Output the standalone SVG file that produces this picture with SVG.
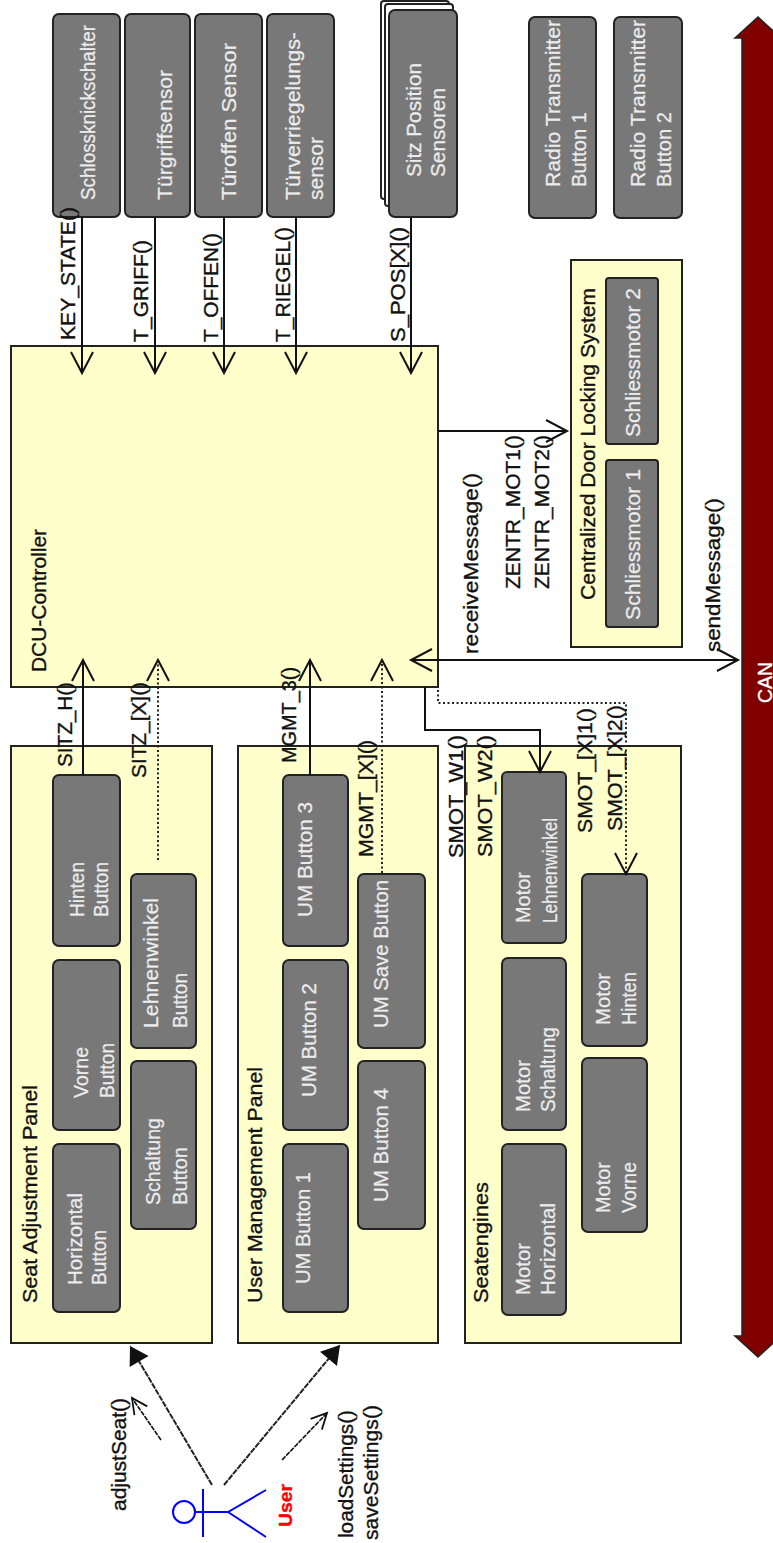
<svg xmlns="http://www.w3.org/2000/svg" width="773" height="1543" viewBox="0 0 773 1543">
<style>
text{font-family:"Liberation Sans",Arial,sans-serif;font-size:21px;fill:#111;stroke:#111;stroke-width:.35}
.b text{fill:#ececec;stroke:#ececec;stroke-width:.25;font-size:20px}
.b rect{fill:#787878;stroke:#222;stroke-width:2}
.p{fill:#ffffcc;stroke:#222;stroke-width:2}
.c{fill:none;stroke:#111;stroke-width:2}
.d{fill:none;stroke:#222;stroke-width:2;stroke-dasharray:2 2.5}
.o{marker-end:url(#open)}
.f{fill:none;stroke:#222;stroke-width:2;stroke-dasharray:6 1;marker-end:url(#fill)}
.s{fill:none;stroke:#111;stroke-width:1.6;stroke-dasharray:5 1;marker-end:url(#sm)}
.a{fill:none;stroke:#00f;stroke-width:2}
</style>
<defs>
<marker id="open" markerUnits="userSpaceOnUse" markerWidth="26" markerHeight="28" viewBox="-23 -13 26 26" refX="0" refY="0" orient="auto-start-reverse"><path d="M-21,-11L0,0L-21,11" fill="none" stroke="#111" stroke-width="2"/></marker>
<marker id="sm" markerUnits="userSpaceOnUse" markerWidth="20" markerHeight="20" viewBox="-16 -9 18 18" refX="0" refY="0" orient="auto"><path d="M-14,-7L0,0L-14,7" fill="none" stroke="#111" stroke-width="1.6"/></marker>
<marker id="fill" markerUnits="userSpaceOnUse" markerWidth="24" markerHeight="24" viewBox="-20 -12 22 24" refX="0" refY="0" orient="auto"><path d="M-18,-11L0,0L-18,11Z" fill="#111"/></marker>
</defs>

<g id="can"><path d="M758,17L781,38H775V1336H781L758,1357L735,1336H742V38H735Z" fill="#800000" stroke="#222" stroke-width="1.5"/><text transform="translate(772,703) rotate(-90)" textLength="41" lengthAdjust="spacingAndGlyphs" style="fill:#fff;stroke:#fff">CAN</text></g>

<g id="dcu-controller"><rect class="p" x="11" y="346" width="427" height="341"/><text transform="translate(46,672) rotate(-90)" textLength="143" lengthAdjust="spacingAndGlyphs">DCU-Controller</text></g>

<g id="seat-adjustment-panel"><rect class="p" x="11" y="746" width="201" height="597"/><text transform="translate(37,1303) rotate(-90)" textLength="218" lengthAdjust="spacingAndGlyphs">Seat Adjustment Panel</text></g>
<g id="user-management-panel"><rect class="p" x="238" y="746" width="200" height="597"/><text transform="translate(262,1303) rotate(-90)" textLength="236" lengthAdjust="spacingAndGlyphs">User Management Panel</text></g>
<g id="seat-engines"><rect class="p" x="465" y="746" width="216" height="597"/><text transform="translate(488,1303) rotate(-90)" textLength="121" lengthAdjust="spacingAndGlyphs">Seatengines</text></g>
<g id="door-locking"><rect class="p" x="571" y="260" width="111" height="387"/><text transform="translate(595,600) rotate(-90)" textLength="312" lengthAdjust="spacingAndGlyphs">Centralized Door Locking System</text></g>

<g id="schlossschalter" class="b"><rect x="53" y="14" width="67" height="203" rx="6"/><text transform="translate(95,200) rotate(-90)" textLength="175" lengthAdjust="spacingAndGlyphs">Schlossknickschalter</text></g>
<g id="tuergriffsensor" class="b"><rect x="125" y="14" width="65" height="203" rx="6"/><text transform="translate(172,200) rotate(-90)" textLength="130" lengthAdjust="spacingAndGlyphs">Türgriffsensor</text></g>
<g id="tueroffen-sensor" class="b"><rect x="195" y="14" width="67" height="203" rx="6"/><text transform="translate(236,200) rotate(-90)" textLength="157" lengthAdjust="spacingAndGlyphs">Türoffen Sensor</text></g>
<g id="tuerverriegelung" class="b"><rect x="267" y="14" width="67" height="203" rx="6"/><text transform="translate(300,200) rotate(-90)" textLength="168" lengthAdjust="spacingAndGlyphs">Türverriegelungs-</text><text transform="translate(323,200) rotate(-90)" textLength="63" lengthAdjust="spacingAndGlyphs">sensor</text></g>
<g id="sitz-position" class="b"><rect x="381" y="1" width="68" height="198" rx="3" style="fill:#fff"/><rect x="385" y="4" width="68" height="202" rx="3" style="fill:#fff"/><rect x="389" y="10" width="68" height="207" rx="6"/><text transform="translate(421,177) rotate(-90)" textLength="114" lengthAdjust="spacingAndGlyphs">Sitz Position</text><text transform="translate(445,177) rotate(-90)" textLength="89" lengthAdjust="spacingAndGlyphs">Sensoren</text></g>
<g id="radio-1" class="b"><rect x="529" y="17" width="67" height="201" rx="6"/><text transform="translate(560,187) rotate(-90)" textLength="167" lengthAdjust="spacingAndGlyphs">Radio Transmitter</text><text transform="translate(586,187) rotate(-90)" textLength="75" lengthAdjust="spacingAndGlyphs">Button 1</text></g>
<g id="radio-2" class="b"><rect x="614" y="17" width="68" height="201" rx="6"/><text transform="translate(645,187) rotate(-90)" textLength="167" lengthAdjust="spacingAndGlyphs">Radio Transmitter</text><text transform="translate(671,187) rotate(-90)" textLength="75" lengthAdjust="spacingAndGlyphs">Button 2</text></g>
<g id="schliessmotor-2" class="b"><rect x="606" y="278" width="52" height="166" rx="3"/><text transform="translate(640,437) rotate(-90)" textLength="149" lengthAdjust="spacingAndGlyphs">Schliessmotor 2</text></g>
<g id="schliessmotor-1" class="b"><rect x="606" y="460" width="52" height="167" rx="3"/><text transform="translate(640,620) rotate(-90)" textLength="151" lengthAdjust="spacingAndGlyphs">Schliessmotor 1</text></g>

<g id="hinten-button" class="b"><rect x="53" y="775" width="67" height="171" rx="6"/><text transform="translate(84,917) rotate(-90)" textLength="55" lengthAdjust="spacingAndGlyphs">Hinten</text><text transform="translate(108,917) rotate(-90)" textLength="55" lengthAdjust="spacingAndGlyphs">Button</text></g>
<g id="vorne-button" class="b"><rect x="53" y="960" width="67" height="170" rx="6"/><text transform="translate(88,1098) rotate(-90)" textLength="51" lengthAdjust="spacingAndGlyphs">Vorne</text><text transform="translate(114,1098) rotate(-90)" textLength="55" lengthAdjust="spacingAndGlyphs">Button</text></g>
<g id="horizontal-button" class="b"><rect x="53" y="1144" width="67" height="168" rx="6"/><text transform="translate(82,1285) rotate(-90)" textLength="92" lengthAdjust="spacingAndGlyphs">Horizontal</text><text transform="translate(106,1285) rotate(-90)" textLength="55" lengthAdjust="spacingAndGlyphs">Button</text></g>
<g id="lehnenwinkel-button" class="b"><rect x="131" y="874" width="65" height="174" rx="6"/><text transform="translate(158,1028) rotate(-90)" textLength="130" lengthAdjust="spacingAndGlyphs">Lehnenwinkel</text><text transform="translate(187,1028) rotate(-90)" textLength="55" lengthAdjust="spacingAndGlyphs">Button</text></g>
<g id="schaltung-button" class="b"><rect x="131" y="1061" width="65" height="168" rx="6"/><text transform="translate(160,1205) rotate(-90)" textLength="87" lengthAdjust="spacingAndGlyphs">Schaltung</text><text transform="translate(187,1205) rotate(-90)" textLength="58" lengthAdjust="spacingAndGlyphs">Button</text></g>

<g id="um-button-3" class="b"><rect x="283" y="775" width="65" height="171" rx="6"/><text transform="translate(312,917) rotate(-90)" textLength="115" lengthAdjust="spacingAndGlyphs">UM Button 3</text></g>
<g id="um-button-2" class="b"><rect x="283" y="960" width="65" height="170" rx="6"/><text transform="translate(316,1097) rotate(-90)" textLength="114" lengthAdjust="spacingAndGlyphs">UM Button 2</text></g>
<g id="um-button-1" class="b"><rect x="283" y="1144" width="65" height="168" rx="6"/><text transform="translate(310,1284) rotate(-90)" textLength="112" lengthAdjust="spacingAndGlyphs">UM Button 1</text></g>
<g id="um-save-button" class="b"><rect x="358" y="874" width="67" height="174" rx="6"/><text transform="translate(388,1028) rotate(-90)" textLength="148" lengthAdjust="spacingAndGlyphs">UM Save Button</text></g>
<g id="um-button-4" class="b"><rect x="358" y="1061" width="67" height="168" rx="6"/><text transform="translate(388,1202) rotate(-90)" textLength="114" lengthAdjust="spacingAndGlyphs">UM Button 4</text></g>

<g id="motor-lehnenwinkel" class="b"><rect x="502" y="772" width="64" height="171" rx="5"/><text transform="translate(530,923) rotate(-90)" textLength="51" lengthAdjust="spacingAndGlyphs">Motor</text><text transform="translate(557,923) rotate(-90)" textLength="105" lengthAdjust="spacingAndGlyphs">Lehnenwinkel</text></g>
<g id="motor-schaltung" class="b"><rect x="502" y="958" width="64" height="172" rx="6"/><text transform="translate(530,1112) rotate(-90)" textLength="52" lengthAdjust="spacingAndGlyphs">Motor</text><text transform="translate(555,1112) rotate(-90)" textLength="85" lengthAdjust="spacingAndGlyphs">Schaltung</text></g>
<g id="motor-horizontal" class="b"><rect x="502" y="1144" width="64" height="171" rx="6"/><text transform="translate(530,1295) rotate(-90)" textLength="52" lengthAdjust="spacingAndGlyphs">Motor</text><text transform="translate(555,1295) rotate(-90)" textLength="92" lengthAdjust="spacingAndGlyphs">Horizontal</text></g>
<g id="motor-hinten" class="b"><rect x="582" y="874" width="65" height="172" rx="6"/><text transform="translate(610,1025) rotate(-90)" textLength="52" lengthAdjust="spacingAndGlyphs">Motor</text><text transform="translate(636,1025) rotate(-90)" textLength="53" lengthAdjust="spacingAndGlyphs">Hinten</text></g>
<g id="motor-vorne" class="b"><rect x="582" y="1058" width="65" height="174" rx="6"/><text transform="translate(610,1213) rotate(-90)" textLength="51" lengthAdjust="spacingAndGlyphs">Motor</text><text transform="translate(636,1213) rotate(-90)" textLength="51" lengthAdjust="spacingAndGlyphs">Vorne</text></g>

<g id="user"><circle class="a" cx="184" cy="1512" r="11"/><path class="a" d="M195,1512H228L266,1490M228,1512L266,1537M203,1489V1537"/><text transform="translate(292,1527) rotate(-90)" textLength="43" lengthAdjust="spacingAndGlyphs" style="fill:#f00;stroke:#f00;font-weight:bold;font-size:18px">User</text></g>

<g id="connectors">
<path class="c o" d="M82,217V373"/>
<path class="c o" d="M155,217V373"/>
<path class="c o" d="M224,217V373"/>
<path class="c o" d="M296,217V373"/>
<path class="c o" d="M411,217V373"/>
<path class="c o" d="M438,431H567"/>
<path class="c o" d="M411,660H738" style="marker-start:url(#open)"/>
<path class="c o" d="M83,775V660"/>
<path class="d o" d="M158,860V660"/>
<path class="c o" d="M310,775V660"/>
<path class="d o" d="M382,873V660"/>
<path class="c o" d="M425,687V730H540V772"/>
<path class="d o" d="M438,690V703H626V874"/>
<path class="f" d="M212,1485L130,1346"/>
<path class="f" d="M224,1485L340,1345"/>
<path class="s" d="M161,1440L132,1398"/>
<path class="s" d="M282,1460L327,1413"/>
<text transform="translate(75,340) rotate(-90)" textLength="133" lengthAdjust="spacingAndGlyphs">KEY_STATE()</text>
<text transform="translate(148,342) rotate(-90)" textLength="102" lengthAdjust="spacingAndGlyphs">T_GRIFF()</text>
<text transform="translate(218,342) rotate(-90)" textLength="109" lengthAdjust="spacingAndGlyphs">T_OFFEN()</text>
<text transform="translate(290,342) rotate(-90)" textLength="115" lengthAdjust="spacingAndGlyphs">T_RIEGEL()</text>
<text transform="translate(405,342) rotate(-90)" textLength="115" lengthAdjust="spacingAndGlyphs">S_POS[X]()</text>
<text transform="translate(72,767) rotate(-90)" textLength="85" lengthAdjust="spacingAndGlyphs">SITZ_H()</text>
<text transform="translate(146,778) rotate(-90)" textLength="96" lengthAdjust="spacingAndGlyphs">SITZ_[X]()</text>
<text transform="translate(296,763) rotate(-90)" textLength="96" lengthAdjust="spacingAndGlyphs">MGMT_3()</text>
<text transform="translate(373,857) rotate(-90)" textLength="117" lengthAdjust="spacingAndGlyphs">MGMT_[X]()</text>
<text transform="translate(463,858) rotate(-90)" textLength="123" lengthAdjust="spacingAndGlyphs">SMOT_W1()</text>
<text transform="translate(492,857) rotate(-90)" textLength="122" lengthAdjust="spacingAndGlyphs">SMOT_W2()</text>
<text transform="translate(592,833) rotate(-90)" textLength="125" lengthAdjust="spacingAndGlyphs">SMOT_[X]1()</text>
<text transform="translate(622,831) rotate(-90)" textLength="126" lengthAdjust="spacingAndGlyphs">SMOT_[X]2()</text>
<text transform="translate(478,654) rotate(-90)" textLength="181" lengthAdjust="spacingAndGlyphs">receiveMessage()</text>
<text transform="translate(520,589) rotate(-90)" textLength="154" lengthAdjust="spacingAndGlyphs">ZENTR_MOT1()</text>
<text transform="translate(549,589) rotate(-90)" textLength="154" lengthAdjust="spacingAndGlyphs">ZENTR_MOT2()</text>
<text transform="translate(720,652) rotate(-90)" textLength="154" lengthAdjust="spacingAndGlyphs">sendMessage()</text>
<text transform="translate(126,1511) rotate(-90)" textLength="113" lengthAdjust="spacingAndGlyphs">adjustSeat()</text>
<text transform="translate(353,1538) rotate(-90)" textLength="128" lengthAdjust="spacingAndGlyphs">loadSettings()</text>
<text transform="translate(378,1540) rotate(-90)" textLength="135" lengthAdjust="spacingAndGlyphs">saveSettings()</text>
</g>
</svg>
